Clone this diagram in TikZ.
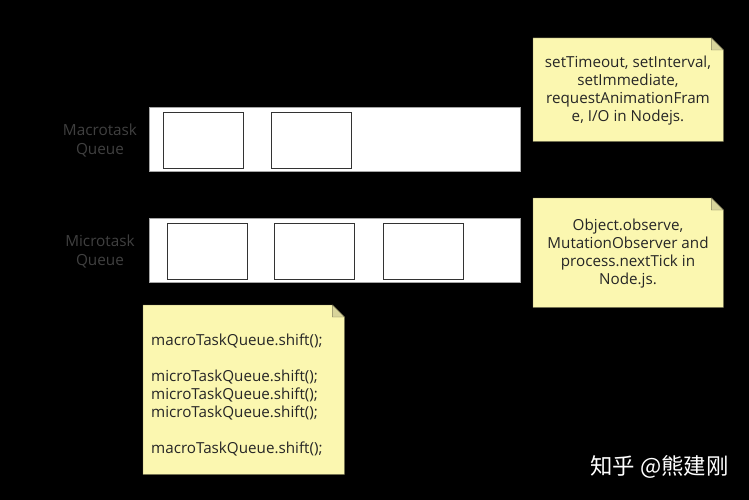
\documentclass[tikz,border=0pt]{standalone}
\usepackage{fontspec}
\setmainfont{Open Sans}
\newfontfamily\cjk{Noto Sans CJK SC}
\usetikzlibrary{calc}
\definecolor{notefill}{HTML}{FBF7B0}
\definecolor{notefold}{HTML}{D8D49A}
\definecolor{labelgray}{HTML}{404040}

\tikzset{
  queue/.style={draw=gray!70, fill=white, minimum width=371pt, minimum height=64pt, anchor=north west, inner sep=0pt},
  task/.style={draw=black!80, thick, fill=white, minimum width=80pt, minimum height=56pt, anchor=north west, inner sep=0pt},
  qlabel/.style={text=labelgray, align=center, font=\fontsize{15.3}{19}\selectfont},
  note/.style={minimum width=190pt, anchor=north west, inner sep=0pt, text=black!85, font=\fontsize{15.2}{18}\selectfont}
}

\begin{document}
\begin{tikzpicture}[x=1pt, y=-1pt]
  % Fondo
  \fill[black] (0,0) rectangle (749,500);
  \useasboundingbox (0,0) rectangle (749,500);

  % Colas
  \node[queue] (macroQ) at (149,107) {};
  \node[queue] (microQ) at (149,218) {};
  \node[qlabel] (macroL) at (100,140) {Macrotask\\Queue};
  \node[qlabel] (microL) at (100,251) {Microtask\\Queue};

  % Tareas
  \node[task] (ma1) at (163,112) {};
  \node[task] (ma2) at (271,112) {};
  \node[task] (mi1) at (167,223) {};
  \node[task] (mi2) at (274,223) {};
  \node[task] (mi3) at (383,223) {};

  % Notas
  \node[note, minimum height=103pt] (macroN) at (533,38) {};
  \node[note, minimum height=109pt] (microN) at (533,198) {};
  \node[note, minimum width=201pt, minimum height=169pt] (runN) at (143,305) {};
  \foreach \n in {macroN,microN,runN} {
    \filldraw[notefill, draw=notefold!60!black] (\n.south west) |- ($(\n.north east)+(-12,0)$)
      -- ($(\n.north east)+(0,12)$) |- cycle;
    \filldraw[notefold, draw=notefold!60!black] ($(\n.north east)+(-12,0)$) -- ($(\n.north east)+(-12,12)$)
      -- ($(\n.north east)+(0,12)$) -- cycle;
  }

  \node[note, align=center, minimum width=0pt, anchor=center] (macroT) at (628,91)
    {setTimeout, setInterval,\\setImmediate,\\requestAnimationFram\\e, I/O in Nodejs.};
  \node[note, align=center, minimum width=0pt, anchor=center] (microT) at (628,254)
    {Object.observe,\\MutationObserver and\\process.nextTick in\\Node.js.};
  \node[note, align=left, minimum width=0pt, anchor=north west] (runT) at (151,334)
    {macroTaskQueue.shift();\\[18pt]microTaskQueue.shift();\\microTaskQueue.shift();\\microTaskQueue.shift();\\[18pt]macroTaskQueue.shift();};

  % Marca
  \node[text=white, font=\cjk\fontsize{22.4}{26}\selectfont, anchor=west] (mark) at (587,467) {知乎 @熊建刚};
\end{tikzpicture}
\end{document}
